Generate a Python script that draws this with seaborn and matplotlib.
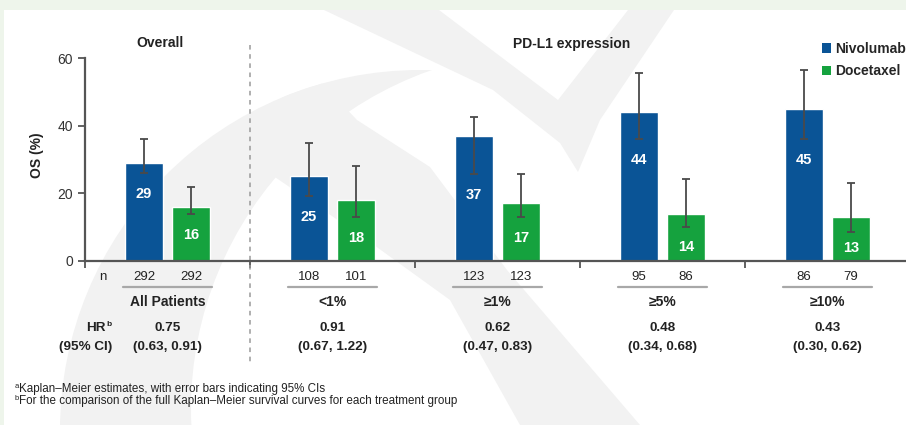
import matplotlib
matplotlib.use("Agg")
import matplotlib.pyplot as plt
import seaborn as sns
import pandas as pd
from matplotlib.patches import Patch, Rectangle, Circle, Polygon
from matplotlib.transforms import blended_transform_factory, Affine2D
from matplotlib import font_manager

# ---- data -------------------------------------------------------------
groups = ["All Patients", "<1%", "≥1%", "≥5%", "≥10%"]
treatments = ["Nivolumab", "Docetaxel"]
os_nivo = [29, 25, 37, 44, 45]
os_doce = [16, 18, 17, 14, 13]
ci_lo_nivo = [26, 19.2, 25.7, 36, 36]
ci_hi_nivo = [36, 35, 42.7, 55.5, 56.5]
ci_lo_doce = [14, 13, 13, 10, 8.7]
ci_hi_doce = [22, 28, 25.8, 24.2, 23]
n_nivo = [292, 108, 123, 95, 86]
n_doce = [292, 101, 123, 86, 79]
hr = ["0.75", "0.91", "0.62", "0.48", "0.43"]
hr_ci = ["(0.63, 0.91)", "(0.67, 1.22)", "(0.47, 0.83)", "(0.34, 0.68)", "(0.30, 0.62)"]

BLUE = "#0a5496"
GREEN = "#15a23e"
DARK = "#4a4a4a"
TEXT = "#222222"
MARK = "#f2f2f2"

df = pd.DataFrame({
    "group": groups * 2,
    "treatment": [treatments[0]] * len(groups) + [treatments[1]] * len(groups),
    "os": os_nivo + os_doce,
})

sns.set_theme(style="white")
installed = {f.name for f in font_manager.fontManager.ttflist}
fam = [f for f in ["Liberation Sans", "Arial", "DejaVu Sans"] if f in installed]
plt.rcParams["font.family"] = fam

W, H = 906, 425
fig = plt.figure(figsize=(W / 100, H / 100), dpi=100, facecolor="#eef5eb")


def fx(px):
    return px / W


def fy(py):
    return 1 - py / H


# pixel coordinates (origin top-left) for the background artwork
PX = Affine2D().scale(1 / W, -1 / H).translate(0, 1) + fig.transFigure

# white panel
fig.add_artist(Rectangle((4, 10), W, H, transform=PX,
                         facecolor="white", edgecolor="none", zorder=-10))

# faint background logo: crescent, diagonal stroke and a "V"
fig.add_artist(Circle((420, 430), 360, transform=PX, facecolor=MARK,
                      edgecolor="none", zorder=-9))
fig.add_artist(Circle((550, 409), 359, transform=PX, facecolor="white",
                      edgecolor="none", zorder=-8))
stroke = Polygon([(300, 60), (357, 120), (430, 167), (507, 270), (640, 425),
                  (520, 425), (450, 300), (367, 240), (250, 160)], closed=True,
                 transform=PX, facecolor=MARK, edgecolor="none", zorder=-7)
fig.add_artist(stroke)
stroke.set_clip_path(Circle((420, 430), 360, transform=PX))
fig.add_artist(Polygon([(324, 10), (439, 10), (558, 100), (628, 10), (674, 10),
                        (600, 120), (578, 172), (560, 143), (493, 90)],
                       closed=True, transform=PX, facecolor=MARK, edgecolor="none",
                       zorder=-7))

ax = fig.add_axes([fx(85), fy(261), fx(W - 85), (261 - 58) / H])
ax.patch.set_alpha(0)

sns.barplot(data=df, x="group", y="os", hue="treatment", order=groups,
            hue_order=treatments, palette=[BLUE, GREEN], saturation=1,
            width=0.57, gap=0.21, errorbar=None, legend=False, ax=ax)

ax.set_ylim(0, 60)
ax.set_xlim(-0.5, -0.5 + (W - 85) / 165)

vals = [os_nivo, os_doce]
lows = [ci_lo_nivo, ci_lo_doce]
highs = [ci_hi_nivo, ci_hi_doce]
counts = [n_nivo, n_doce]

T = blended_transform_factory(ax.transData, fig.transFigure)

for cont, v, lo, hi, ns in zip(ax.containers, vals, lows, highs, counts):
    xs = [b.get_x() + b.get_width() / 2 for b in cont]
    ax.errorbar(xs, v, yerr=[[a - b for a, b in zip(v, lo)], [b - a for a, b in zip(v, hi)]],
                fmt="none", ecolor=DARK, elinewidth=1.3, capsize=3, capthick=1.3, zorder=3)
    for x, val, l, n in zip(xs, v, lo, ns):
        ax.text(x, max(l - 6.2, val * 0.3), f"{val}", color="white", fontsize=10.5,
                fontweight="bold", ha="center", va="center", zorder=4)
        ax.text(x, fy(277), f"{n}", transform=T, fontsize=9.5, color=TEXT,
                ha="center", va="center")

# axis styling
for s in ["top", "right"]:
    ax.spines[s].set_visible(False)
for s in ["left", "bottom"]:
    ax.spines[s].set_color("#555555")
    ax.spines[s].set_linewidth(1.6)
ax.set_yticks([0, 20, 40, 60])
ax.set_xticks([-0.5, 0.5, 1.5, 2.5, 3.5], labels=[""] * 5)
ax.tick_params(axis="both", direction="out", length=5, width=1.3, color="#555555",
               labelsize=10, labelcolor="#333333", pad=3.5, bottom=True, left=True)
ax.set_xlabel("")
ax.set_ylabel("")

# separator between overall and subgroups
ax.plot([0.5, 0.5], [fy(45), fy(362)], transform=T, color="#9a9a9a",
        lw=1.1, ls=(0, (3, 3)), clip_on=False)

# rows under the axis
for i, g in enumerate(groups):
    ax.plot([i - 0.267, i + 0.267], [fy(287), fy(287)], transform=T,
            color="#a8a8a8", lw=1.6, clip_on=False)
    ax.text(i, fy(302), g, transform=T, fontsize=10, fontweight="bold",
            color=TEXT, ha="center", va="center")
    ax.text(i, fy(328), hr[i], transform=T, fontsize=9.7, fontweight="bold",
            color=TEXT, ha="center", va="center")
    ax.text(i, fy(347), hr_ci[i], transform=T, fontsize=9.7, fontweight="bold",
            color=TEXT, ha="center", va="center")

fig.text(fx(103), fy(277), "n", fontsize=9.5, color=TEXT, ha="center", va="center")
fig.text(fx(106), fy(328), "HR", fontsize=9.7, fontweight="bold", color=TEXT,
         ha="right", va="center")
fig.text(fx(106), fy(324), "b", fontsize=6, fontweight="bold", color=TEXT,
         ha="left", va="center")
fig.text(fx(112), fy(347), "(95% CI)", fontsize=9.7, fontweight="bold", color=TEXT,
         ha="right", va="center")

# titles and y label
fig.text(fx(160), fy(43), "Overall", fontsize=10, fontweight="bold", color=TEXT,
         ha="center", va="center")
fig.text(fx(572), fy(44), "PD-L1 expression", fontsize=10, fontweight="bold",
         color=TEXT, ha="center", va="center")
fig.text(fx(37), fy(155), "OS (%)", rotation=90, fontsize=10, fontweight="bold",
         color=TEXT, ha="center", va="center")

# legend
handles = [Patch(facecolor=BLUE, edgecolor="none", label=treatments[0]),
           Patch(facecolor=GREEN, edgecolor="none", label=treatments[1])]
fig.legend(handles=handles, loc="upper left", bbox_to_anchor=(fx(822), fy(42)),
           frameon=False, handlelength=0.65, handleheight=0.65, handletextpad=0.3,
           labelspacing=0.6, borderaxespad=0, borderpad=0,
           prop={"weight": "bold", "size": 10})

# footnotes
fig.text(fx(15), fy(386), "a", fontsize=5.5, color=TEXT, ha="left", va="center")
fig.text(fx(19), fy(389), "Kaplan–Meier estimates, with error bars indicating 95% CIs",
         fontsize=8.4, color=TEXT, ha="left", va="center")
fig.text(fx(15), fy(398), "b", fontsize=5.5, color=TEXT, ha="left", va="center")
fig.text(fx(19), fy(401),
         "For the comparison of the full Kaplan–Meier survival curves for each treatment group",
         fontsize=8.4, color=TEXT, ha="left", va="center")

fig.savefig("out.png", dpi=100, facecolor=fig.get_facecolor())
